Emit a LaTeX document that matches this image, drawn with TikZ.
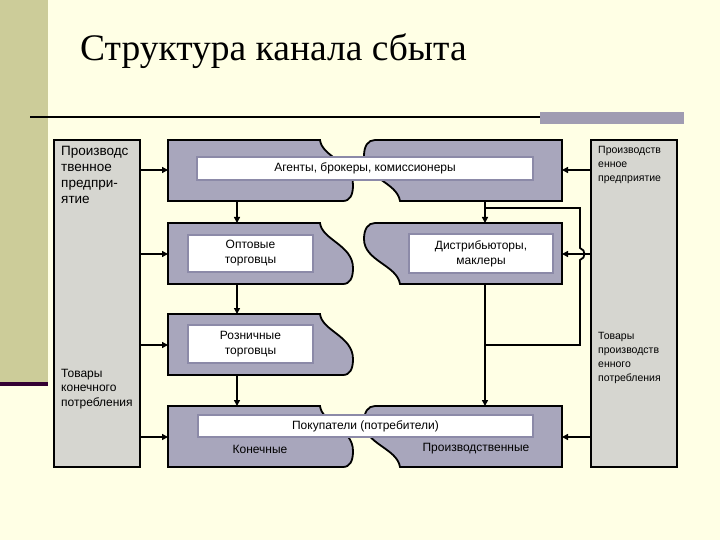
\documentclass[tikz,border=0pt]{standalone}
\usepackage{fontspec}
\setmainfont{Liberation Sans}
\newfontfamily\titlefont{Liberation Serif}
\usetikzlibrary{arrows.meta}

\definecolor{cream}{RGB}{255,255,229}
\definecolor{olive}{RGB}{204,204,153}
\definecolor{slate}{RGB}{168,166,188}
\definecolor{sidegray}{RGB}{214,214,208}
\definecolor{rim}{RGB}{140,138,168}
\definecolor{barcol}{RGB}{160,156,178}
\definecolor{plum}{RGB}{51,0,51}

% left and right halves of a channel row, #1 = top edge
\newcommand{\leftpiece}[1]{%
  \draw[piece] (168,#1) -- (320,#1)
    .. controls (322,#1+17) and (353,#1+22) .. (353,#1+45)
    .. controls (353,#1+55) and (350,#1+61) .. (343,#1+61)
    -- (168,#1+61) -- cycle;}
\newcommand{\rightpiece}[1]{%
  \draw[piece] (562,#1) -- (375,#1)
    .. controls (368,#1) and (364,#1+6) .. (364,#1+16)
    .. controls (364,#1+38) and (397,#1+42) .. (400,#1+61)
    -- (562,#1+61) -- cycle;}

\begin{document}
\begin{tikzpicture}
  [x=1pt,y=-1pt,
   piece/.style={fill=slate,draw=black,line width=1.8},
   sidebox/.style={rectangle,fill=sidegray,draw=black,line width=1.8,inner sep=0},
   whitebox/.style={rectangle,fill=white,draw=rim,line width=1.6,inner sep=0,
     align=center,font=\fontsize{12}{15}\selectfont},
   sidetext/.style={anchor=north west,inner sep=0,align=left,
     font=\fontsize{12}{14.5}\selectfont},
   arr/.style={line width=1.8,-{Triangle[length=6,width=6]}},
   link/.style={line width=1.8}]
  \useasboundingbox (0,0) rectangle (720,540);
  \fill[cream] (0,0) rectangle (720,540);
  \fill[olive] (0,0) rectangle (48,382);
  \fill[plum] (0,382) rectangle (48,386);
  \fill[barcol] (540,112) rectangle (684,124);
  \draw[line width=2] (30,117) -- (540,117);
  \node[anchor=base west,inner sep=0,font=\titlefont\fontsize{37.5}{40}\selectfont]
    (title) at (80,61) {Структура канала сбыта};

  % side columns
  \node[sidebox,minimum width=86,minimum height=327] (lbox) at (97,303.5) {};
  \node[sidebox,minimum width=86,minimum height=327] (rbox) at (634,303.5) {};
  \node[sidetext,font=\fontsize{13.5}{16}\selectfont] (lfirm) at (61,146)
    {Производс\\твенное\\предпри-\\ятие};
  \node[sidetext] (lgoods) at (61,369) {Товары\\конечного\\потребления};
  \node[sidetext,font=\fontsize{10.5}{14}\selectfont] (rfirm) at (598,146)
    {Производств\\енное\\предприятие};
  \node[sidetext,font=\fontsize{10.5}{14}\selectfont] (rgoods) at (598,332)
    {Товары\\производств\\енного\\потребления};

  % rows
  \leftpiece{140} \rightpiece{140}
  \leftpiece{223} \rightpiece{223}
  \leftpiece{314}
  \leftpiece{406} \rightpiece{406}

  \node[whitebox,minimum width=336,minimum height=23] (agents) at (365,168.5)
    {Агенты, брокеры, комиссионеры};
  \node[whitebox,minimum width=125,minimum height=37] (whole) at (250.5,253.5)
    {Оптовые\\торговцы};
  \node[whitebox,minimum width=144,minimum height=39] (distr) at (481,253.5)
    {Дистрибьюторы,\\маклеры};
  \node[whitebox,minimum width=125,minimum height=38] (retail) at (250.5,344)
    {Розничные\\торговцы};
  \node[whitebox,minimum width=335,minimum height=22] (buyers) at (365.5,426)
    {Покупатели (потребители)};
  \node[font=\fontsize{12}{14}\selectfont] (final) at (260,449) {Конечные};
  \node[font=\fontsize{12}{14}\selectfont] (indus) at (476,449) {Производственные};

  % entry points on the rows
  \coordinate (inL1) at (168,170);
  \coordinate (inL2) at (168,254);
  \coordinate (inL3) at (168,345);
  \coordinate (inL4) at (168,437);
  \coordinate (inR1) at (562,170);
  \coordinate (inR2) at (562,254);
  \coordinate (inR4) at (562,437);
  \foreach \to in {inL1,inL2,inL3,inL4}
    \draw[arr] (lbox.east |- \to) -- (\to);
  \foreach \to in {inR1,inR2,inR4}
    \draw[arr] (rbox.west |- \to) -- (\to);

  % flow down the channel
  \foreach \x/\from/\to in {237/201/223,237/284/314,237/375/406,485/201/223,485/284/406}
    \draw[arr] (\x,\from) -- (\x,\to);
  \coordinate (fork) at (485,208);
  \coordinate (join) at (485,345);
  \draw[link] (fork) -- (580,208) -- (580,248)
    .. controls (586,250) and (586,258) .. (580,260)
    -- (580,345) -- (join);
\end{tikzpicture}
\end{document}
